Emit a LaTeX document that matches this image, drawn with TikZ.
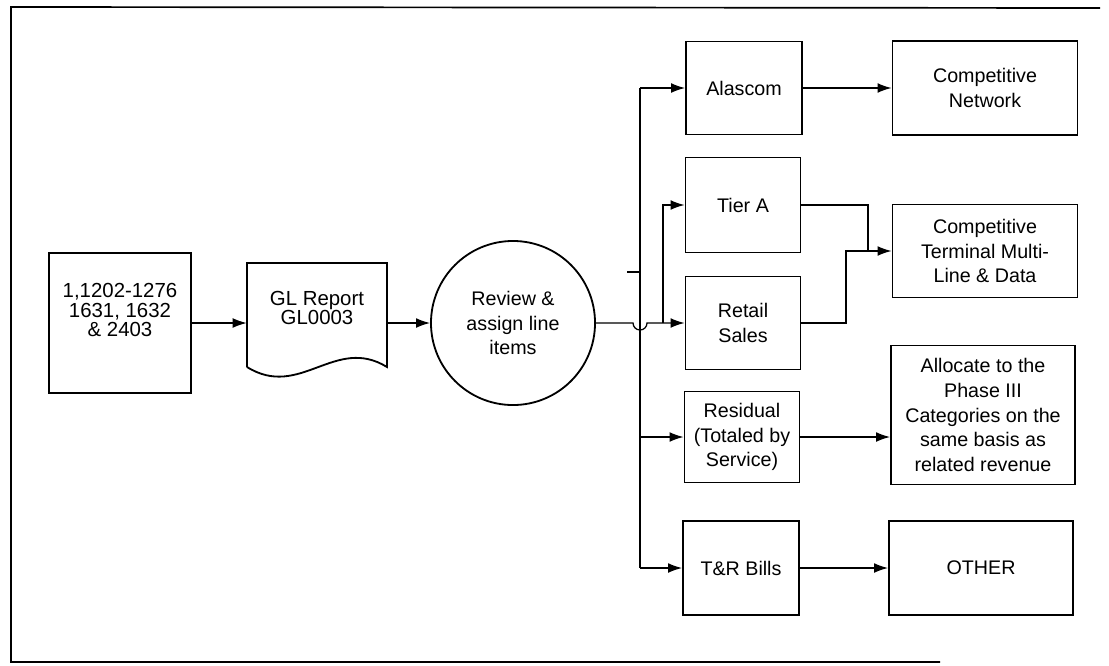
\documentclass[tikz,border=0pt]{standalone}
\usepackage{fontspec}
\setmainfont{Liberation Sans}
\usetikzlibrary{arrows.meta}
\begin{document}
\begin{tikzpicture}[x=0.025cm,y=-0.025cm,
  box/.style={draw,line width=1.3pt,align=center,inner sep=2pt,font=\fontsize{14}{17.5}\selectfont},
  tight/.style={align=center,inner sep=0pt,font=\fontsize{14.5}{13.6}\selectfont},
  conn/.style={line width=0.9pt},
  arr/.style={conn,-{Latex[length=10pt,width=7pt]}}]
\useasboundingbox (0,0) rectangle (1109,665);
% frame
\draw[line width=1.2pt] (1100,8) -- (11,7) -- (11,662) -- (940,662);
% nodes
\node[box,minimum width=3.55cm,minimum height=3.5cm] (src) at (120,323) {};
\node[tight] (srcl) at (120,310) {1,1202-1276\\1631, 1632\\\& 2403};
\node[minimum width=3.5cm,minimum height=2.6cm,inner sep=0pt] (doc) at (317,323) {};
\draw[line width=1.3pt] (247,367) -- (247,263) -- (387,263) -- (387,367)
   .. controls (335,335) and (300,400) .. (247,367);
\node[tight] (docl) at (317,308) {GL Report\\GL0003};
\node[box,circle,minimum size=4.1cm] (circ) at (513,323) {Review \&\\assign line\\items};
\node[box,minimum width=2.9cm,minimum height=2.325cm] (alascom) at (744,88) {Alascom};
\node[box,minimum width=4.625cm,minimum height=2.35cm] (compnet) at (985,88) {Competitive\\Network};
\node[box,minimum width=2.875cm,minimum height=2.375cm] (tiera) at (743,205) {Tier A};
\node[box,minimum width=2.875cm,minimum height=2.325cm] (retail) at (743,323) {Retail\\Sales};
\node[box,minimum width=4.625cm,minimum height=2.325cm] (compterm) at (985,251) {Competitive\\Terminal Multi-\\Line \& Data};
\node[box,minimum width=2.875cm,minimum height=2.275cm] (residual) at (742,437) {Residual\\(Totaled by\\Service)};
\node[box,minimum width=4.6cm,minimum height=3.475cm] (allocate) at (983,415) {Allocate to the\\Phase III\\Categories on the\\same basis as\\related revenue};
\node[box,minimum width=2.9cm,minimum height=2.35cm] (tr) at (741,568) {T\&R Bills};
\node[box,minimum width=4.6cm,minimum height=2.35cm] (other) at (981,568) {OTHER};
% connectors
\draw[arr] (src) -- (doc);
\draw[arr] (doc) -- (circ);
\draw[arr] (circ.east) -- (633,323) arc (180:0:7) -- (retail.west);
\coordinate (j1) at (663,323);
\draw[arr] (j1) |- (tiera.west);
\coordinate (vtop) at (640,88);
\coordinate (vbot) at (640,568);
\draw[conn] (vtop) -- (vbot);
\draw[arr] (vtop) -- (alascom.west);
\draw[arr] (vbot) -- (tr.west);
\draw[arr] (vtop |- residual.west) -- (residual.west);
\coordinate (stub) at (627,272);
\draw[conn] (stub) -- (stub -| vtop);
\draw[arr] (alascom) -- (compnet);
\coordinate (tj) at (868,251);
\draw[arr] (tiera.east) -| (tj) -- (compterm.west);
\coordinate (rj) at (846,251);
\draw[conn] (retail.east) -| (rj) -- (tj);
\draw[arr] (residual.east) -- (residual.east -| allocate.west);
\draw[arr] (tr) -- (other);
\end{tikzpicture}
\end{document}
